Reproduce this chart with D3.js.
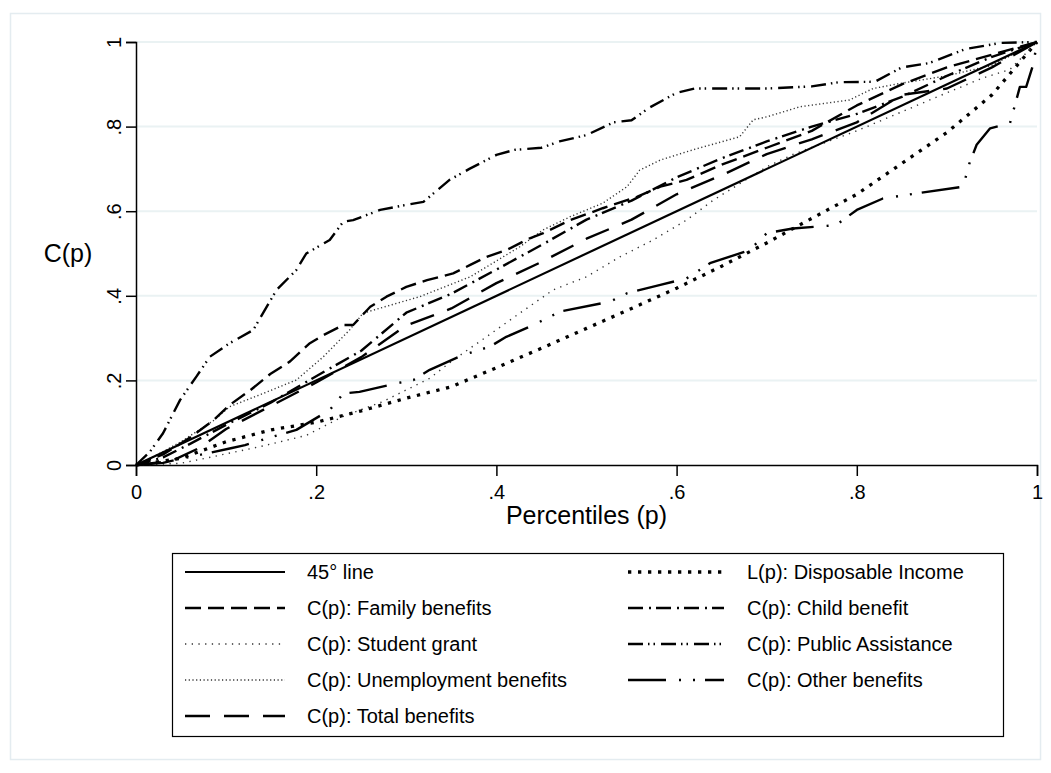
<!DOCTYPE html>
<html><head><meta charset="utf-8">
<script src="https://cdn.jsdelivr.net/npm/d3@7"></script>
<style>
body{margin:0;background:#fff}
svg{display:block}
text{font-family:"Liberation Sans",Arial,sans-serif;fill:#000}
</style>
</head><body>
<svg id="chart" width="1051" height="773"></svg>
<script>
// ---------- data ----------
const xTicks = [0, 0.2, 0.4, 0.6, 0.8, 1];
const xTickLabels = ["0", ".2", ".4", ".6", ".8", "1"];
const yTicks = [0, 0.2, 0.4, 0.6, 0.8, 1];
const yTickLabels = ["0", ".2", ".4", ".6", ".8", "1"];

const seriesNames = [
  "45° line", "L(p): Disposable Income",
  "C(p): Family benefits", "C(p): Child benefit",
  "C(p): Student grant", "C(p): Public Assistance",
  "C(p): Unemployment benefits", "C(p): Other benefits",
  "C(p): Total benefits"
];

const line45 = [[0,0],[1,1]];
const disposableIncome = [[0,0],[.05,.016],[.1,.055],[.15,.083],[.2,.101],[.25,.128],[.3,.158],[.35,.185],[.4,.23],[.45,.276],[.5,.323],[.55,.37],[.6,.418],[.65,.47],[.7,.525],[.75,.583],[.8,.64],[.85,.713],[.9,.786],[.95,.875],[1,1]];
const familyBenefits = [[0,0],[.03,.025],[.06,.065],[.086,.106],[.104,.142],[.127,.177],[.149,.215],[.171,.245],[.193,.288],[.208,.307],[.23,.331],[.241,.331],[.26,.374],[.278,.398],[.3,.421],[.323,.437],[.352,.453],[.371,.473],[.389,.492],[.411,.508],[.437,.536],[.452,.548],[.482,.579],[.518,.607],[.556,.634],[.582,.658],[.611,.674],[.65,.71],[.7,.75],[.75,.79],[.8,.85],[.85,.9],[.9,.94],[.95,.97],[1,1]];
const childBenefit = [[0,0],[.03,.018],[.06,.05],[.1,.095],[.15,.148],[.2,.21],[.25,.27],[.3,.36],[.35,.405],[.4,.462],[.45,.52],[.5,.58],[.55,.625],[.6,.68],[.65,.725],[.7,.765],[.75,.8],[.8,.83],[.85,.87],[.9,.92],[.95,.965],[1,1]];
const studentGrant = [[0,0],[.05,.004],[.086,.02],[.141,.045],[.189,.07],[.23,.115],[.274,.15],[.326,.205],[.352,.248],[.389,.303],[.426,.359],[.463,.414],[.5,.445],[.537,.492],[.574,.532],[.611,.579],[.64,.625],[.7,.705],[.73,.735],[.8,.79],[.85,.835],[.9,.88],[.94,.915],[.97,.935],[1,1]];
const publicAssistance = [[0,0],[.015,.03],[.03,.075],[.049,.154],[.067,.209],[.082,.256],[.104,.288],[.13,.319],[.156,.414],[.178,.461],[.189,.5],[.215,.532],[.23,.575],[.241,.579],[.271,.603],[.3,.615],[.319,.622],[.348,.674],[.37,.7],[.4,.733],[.42,.745],[.45,.75],[.47,.765],[.5,.78],[.53,.81],[.55,.815],[.57,.845],[.6,.88],[.62,.89],[.7,.89],[.75,.895],[.78,.905],[.82,.906],[.85,.94],[.88,.95],[.92,.983],[.96,.998],[1,1]];
const unemploymentBenefits = [[0,0],[.02,.02],[.05,.055],[.086,.105],[.104,.138],[.141,.169],[.178,.201],[.208,.256],[.237,.319],[.252,.359],[.289,.382],[.315,.398],[.371,.445],[.426,.516],[.452,.556],[.482,.587],[.518,.619],[.545,.658],[.559,.697],[.582,.721],[.618,.745],[.67,.776],[.685,.816],[.7,.823],[.737,.847],[.792,.863],[.818,.89],[.848,.902],[.9,.92],[.95,.945],[1,1]];
const otherBenefits = [[0,0],[.03,.005],[.05,.015],[.071,.024],[.104,.039],[.121,.047],[.152,.067],[.178,.083],[.215,.13],[.23,.169],[.248,.173],[.289,.193],[.308,.201],[.326,.225],[.363,.26],[.393,.28],[.411,.303],[.44,.33],[.471,.363],[.526,.386],[.545,.406],[.582,.426],[.611,.441],[.637,.477],[.681,.508],[.7,.548],[.729,.559],[.777,.567],[.8,.603],[.829,.63],[.866,.642],[.918,.658],[.925,.713],[.933,.757],[.948,.796],[.97,.808],[.975,.847],[.981,.894],[.988,.894],[.996,.948],[1,1]];
const totalBenefits = [[0,0],[.04,.01],[.07,.04],[.1,.085],[.15,.14],[.2,.195],[.25,.255],[.3,.33],[.35,.37],[.4,.43],[.45,.48],[.5,.535],[.55,.58],[.6,.64],[.65,.685],[.7,.735],[.75,.77],[.8,.81],[.85,.875],[.9,.89],[.95,.94],[1,1]];

const seriesData = [line45, disposableIncome, familyBenefits, childBenefit, studentGrant,
  publicAssistance, unemploymentBenefits, otherBenefits, totalBenefits];

// ---------- styles ----------
const styles = [
  {dash:null, w:2.2, c:"#000"},
  {dash:"3.3,6.7", w:3.3, c:"#000"},
  {dash:"16,7", w:2.4, c:"#000"},
  {dash:"15,6,2,5", w:2.4, c:"#000"},
  {dash:"1.3,5.4", w:1.4, c:"#333"},
  {dash:"15,5,1.5,4,1.5,6", w:2.4, c:"#000"},
  {dash:"1.2,2.5", w:1.4, c:"#333"},
  {dash:"38,13,2,12,2,10", w:2.4, c:"#000"},
  {dash:"25,14", w:2.4, c:"#000"}
];

// ---------- layout ----------
const svg = d3.select("#chart");
const plot = {left:136, right:1037, top:42, bottom:465};

svg.append("rect").attr("x",10.5).attr("y",13.5).attr("width",1030).attr("height",746)
  .attr("fill","#fff").attr("stroke","#e4ecf0").attr("stroke-width",1.5);

const x = d3.scaleLinear().domain([0,1]).range([plot.left, plot.right]);
const y = d3.scaleLinear().domain([0,1]).range([plot.bottom, plot.top]);

// gridlines
svg.append("g").selectAll("line").data(yTicks.filter(v=>v>0)).join("line")
  .attr("x1",plot.left).attr("x2",plot.right)
  .attr("y1",d=>y(d)).attr("y2",d=>y(d))
  .attr("stroke","#eaf2f3").attr("stroke-width",2);

// axes
const xAxis = d3.axisBottom(x).tickValues(xTicks).tickFormat((d,i)=>xTickLabels[i]).tickSize(11).tickPadding(9);
const gx = svg.append("g").attr("transform",`translate(0,${plot.bottom})`).call(xAxis);
gx.select(".domain").attr("stroke","#000").attr("stroke-width",1.5);
gx.selectAll(".tick line").attr("stroke","#000").attr("stroke-width",1.5);
gx.selectAll(".tick text").attr("font-size",20).attr("font-family","Liberation Sans, Arial, sans-serif");

const yAxis = d3.axisLeft(y).tickValues(yTicks).tickFormat((d,i)=>yTickLabels[i]).tickSize(10).tickPadding(5);
const gy = svg.append("g").attr("transform",`translate(${plot.left},0)`).call(yAxis);
gy.select(".domain").attr("stroke","#000").attr("stroke-width",1.5);
gy.selectAll(".tick line").attr("stroke","#000").attr("stroke-width",1.5);
gy.selectAll(".tick text")
  .attr("font-size",20).attr("font-family","Liberation Sans, Arial, sans-serif")
  .attr("x",null).attr("dy",null)
  .attr("text-anchor","middle")
  .attr("transform","translate(-15,0) rotate(-90)");

// axis titles
svg.append("text").attr("x",(plot.left+plot.right)/2).attr("y",524)
  .attr("text-anchor","middle").attr("font-size",25).text("Percentiles (p)");
svg.append("text").attr("x",68).attr("y",262)
  .attr("text-anchor","middle").attr("font-size",25).text("C(p)");

// lines
const lineGen = d3.line().x(d=>x(d[0])).y(d=>y(d[1]));
const drawOrder = [1,4,6,7,8,3,2,5,0];
svg.append("g").selectAll("path").data(drawOrder).join("path")
  .attr("d",i=>lineGen(seriesData[i]))
  .attr("fill","none")
  .attr("stroke",i=>styles[i].c)
  .attr("stroke-width",i=>styles[i].w)
  .attr("stroke-dasharray",i=>styles[i].dash)
  .attr("stroke-linejoin","round");

// legend
const leg = {x:172, y:553, w:831, h:183};
svg.append("rect").attr("x",leg.x+0.5).attr("y",leg.y+0.5).attr("width",leg.w).attr("height",leg.h)
  .attr("fill","#fff").attr("stroke","#000").attr("stroke-width",1.2);
const rowY = [572, 608, 644, 680, 716];
const cols = [{x1:185, x2:285, tx:307}, {x1:628, x2:724, tx:747}];
const lg = svg.append("g").selectAll("g").data(seriesNames.map((n,i)=>i)).join("g");
lg.append("line")
  .attr("x1",i=>cols[i%2].x1).attr("x2",i=>cols[i%2].x2)
  .attr("y1",i=>rowY[Math.floor(i/2)]).attr("y2",i=>rowY[Math.floor(i/2)])
  .attr("stroke",i=>styles[i].c).attr("stroke-width",i=>styles[i].w)
  .attr("stroke-dasharray",i=>styles[i].dash);
lg.append("text")
  .attr("x",i=>cols[i%2].tx).attr("y",i=>rowY[Math.floor(i/2)]+7)
  .attr("font-size",20).text(i=>seriesNames[i]);
</script>
</body></html>
